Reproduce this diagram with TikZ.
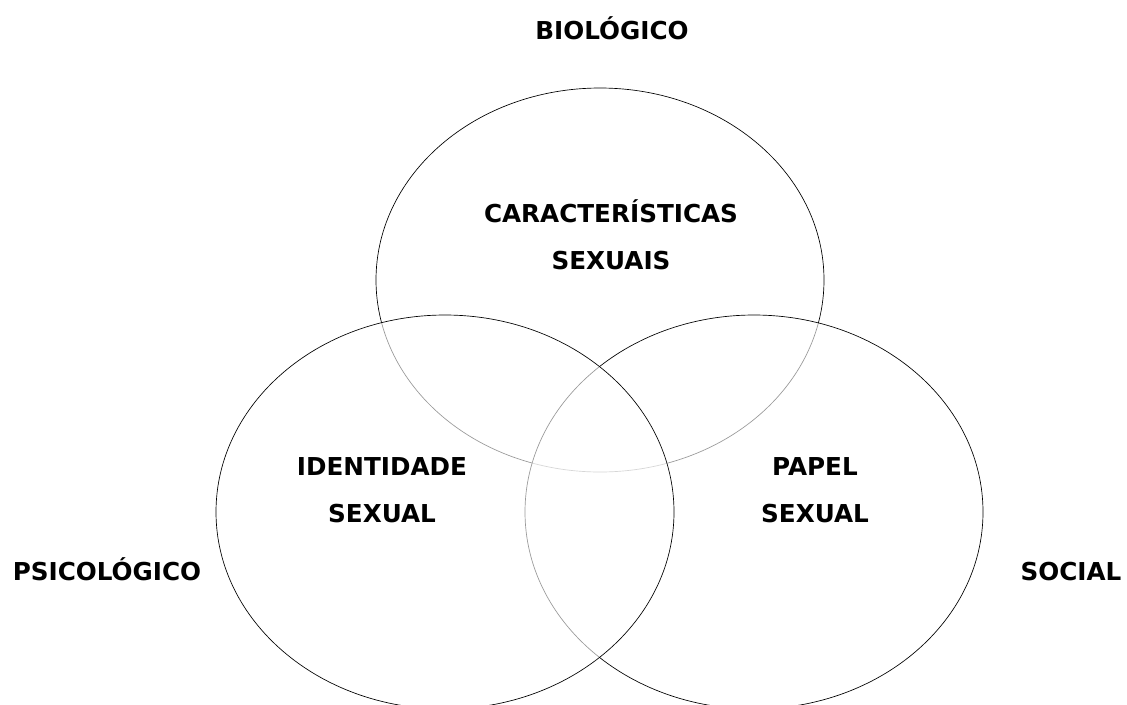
\documentclass[tikz,border=0pt]{standalone}
\usepackage{fontspec}
\setmainfont{DejaVu Sans}
\usepackage{tikz}
\usetikzlibrary{shapes.geometric, positioning}

\begin{document}
\begin{tikzpicture}[x=0.75pt, y=-0.75pt]

	\tikzstyle{esfera}=[ellipse, draw, color=black, line width=0.5pt, fill=white, fill opacity=0.6, inner sep=0pt]
	\tikzstyle{campo}=[font=\bfseries\fontsize{18.5}{22}\selectfont, color=black, anchor=base]
	\tikzstyle{area}=[font=\bfseries\fontsize{18.5}{35}\selectfont, align=center, color=black]

	\useasboundingbox (0,0) rectangle (1127,704);
	\clip (0,0) rectangle (1127,704);

	% elipses
	\node[esfera, minimum width=336pt, minimum height=288pt] (bio) at (600,280) {};
	\node[esfera, minimum width=343.5pt, minimum height=295.5pt] (soc) at (754,512) {};
	\node[esfera, minimum width=343.5pt, minimum height=295.5pt] (psi) at (445,512) {};

	% textos
	\node[area] (caract) at (611,235) {CARACTERÍSTICAS\\SEXUAIS};
	\node[area] (ident) at (382,490) {IDENTIDADE\\SEXUAL};
	\node[area] (papel) at (815,490) {PAPEL\\SEXUAL};

	\node[campo] (biologico) at (612,39) {BIOLÓGICO};
	\node[campo] (psicologico) at (107,580) {PSICOLÓGICO};
	\node[campo] (social) at (1071,580) {SOCIAL};

\end{tikzpicture}
\end{document}
